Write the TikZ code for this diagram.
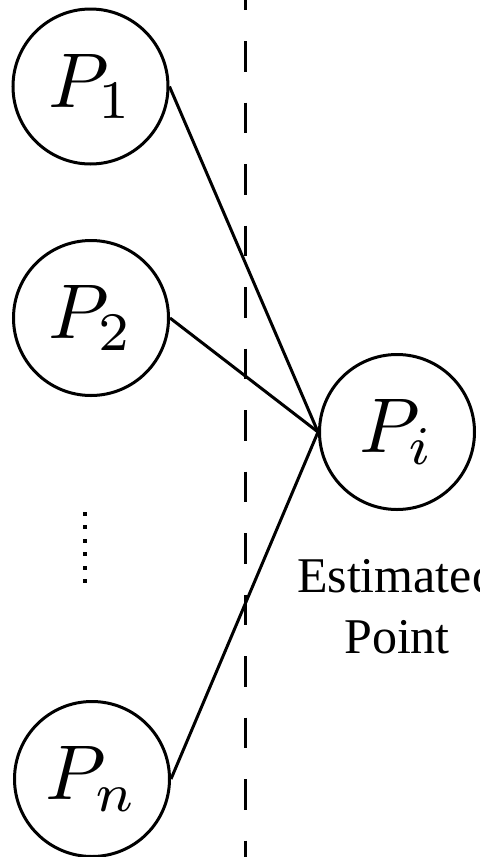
\documentclass[tikz,border=0pt]{standalone}
\usepackage{graphicx}
\usepackage{fontspec}
\newfontfamily\labelfont{Liberation Serif}
\newcommand{\bigmath}[1]{\scalebox{3.88}{$#1$}}
\tikzset{
  pnode/.style={circle, draw, line width=1.5pt, minimum size=77.5pt, inner sep=0pt},
  link/.style={line width=1.5pt},
  sep/.style={line width=1.5pt, dash pattern=on 15.25pt off 15.5pt},
}
\begin{document}
\begin{tikzpicture}[x=0.5pt,y=-0.5pt]
\useasboundingbox (0,0) rectangle (479,857);
\clip (0,0) rectangle (479,857);
\draw[sep] (245,-20.5) -- (245,870);
\node[pnode] (p1) at (90.5,86.5) {\bigmath{P_1}};
\node[pnode] (p2) at (91,318) {\bigmath{P_2}};
\node[pnode] (pn) at (92,779) {\bigmath{P_n}};
\node[pnode] (pi) at (397,432) {\bigmath{P_i}};
\draw[link] (p1.east) -- (pi.west);
\draw[link] (p2.east) -- (pi.west);
\draw[link] (pn.east) -- (pi.west);
\foreach \yy in {514,527.4,540.8,554.2,567.6,581}
  \fill (83,\yy-2) rectangle (87,\yy+2);
\node[anchor=base, align=center, inner sep=0pt,
  font=\labelfont\fontsize{25}{30.5}\selectfont] (lbl) at (397,653) {Estimated\\Point};
\end{tikzpicture}
\end{document}
